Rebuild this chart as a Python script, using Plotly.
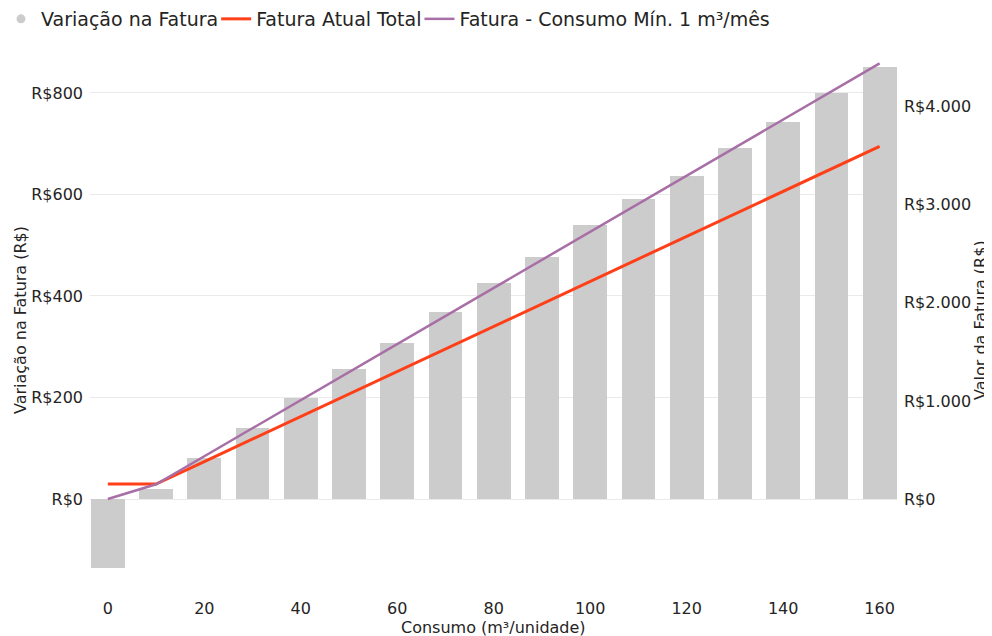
import plotly.graph_objects as go

# Data
consumo = [0, 10, 20, 30, 40, 50, 60, 70, 80, 90, 100, 110, 120, 130, 140, 150, 160]
variacao = [-135, 20, 80, 140, 199, 256, 307, 368, 426, 477, 540, 591, 636, 692, 743, 800, 851]
fatura_atual = [153, 153, 382, 611, 840, 1069, 1298, 1527, 1756, 1985, 2214, 2443, 2672, 2901, 3130, 3359, 3595]
fatura_min = [0, 150, 436, 722, 1008, 1294, 1580, 1866, 2152, 2438, 2724, 3010, 3296, 3582, 3868, 4154, 4440]

x_ticks = [0, 20, 40, 60, 80, 100, 120, 140, 160]
left_ticks = [0, 200, 400, 600, 800]
left_labels = ["R$0", "R$200", "R$400", "R$600", "R$800"]
right_ticks = [0, 1000, 2000, 3000, 4000]
right_labels = ["R$0", "R$1.000", "R$2.000", "R$3.000", "R$4.000"]

FONT = "DejaVu Sans"
TXT = "#252423"
GRAY = "#CCCCCC"
RED = "#FF3F17"
PURPLE = "#A86FA6"

ML, MR, MT, MB = 82, 103, 42, 54
PW = 992 - ML - MR
PH = 636 - MT - MB

fig = go.Figure()

fig.add_trace(go.Bar(
    x=consumo, y=variacao, name="Variação na Fatura",
    marker=dict(color=GRAY, line=dict(width=0)),
    width=7, showlegend=False, yaxis="y",
))
# legend entry with circle symbol like the original
fig.add_trace(go.Scatter(
    x=[None], y=[None], mode="markers", name="Variação na Fatura",
    marker=dict(color=GRAY, size=9, symbol="circle"), showlegend=True,
))
fig.add_trace(go.Scatter(
    x=consumo, y=fatura_atual, name="Fatura Atual Total", mode="lines",
    line=dict(color=RED, width=3), yaxis="y2",
))
fig.add_trace(go.Scatter(
    x=consumo, y=fatura_min, name="Fatura - Consumo Mín. 1 m³/mês", mode="lines",
    line=dict(color=PURPLE, width=2.5), yaxis="y2",
))

fig.update_layout(
    width=992, height=636,
    margin=dict(l=ML, r=MR, t=MT, b=MB),
    paper_bgcolor="white", plot_bgcolor="white",
    font=dict(family=FONT, color=TXT, size=16),
    bargap=0,
    showlegend=True,
    legend=dict(
        orientation="h", xref="container", x=0,
        yref="container", y=1 - 11 / 636,
        xanchor="left", yanchor="middle", indentation=-7,
        font=dict(family=FONT, size=19, color=TXT),
        itemwidth=30, tracegroupgap=0, traceorder="normal",
        bgcolor="rgba(0,0,0,0)",
    ),
    xaxis=dict(
        range=[-3.7, 163.6], tickvals=x_ticks, ticktext=[str(v) for v in x_ticks],
        showgrid=False, zeroline=False, showline=False, ticks="",
        tickfont=dict(size=16, color=TXT), ticklabelstandoff=7,
        automargin=False,
    ),
    yaxis=dict(
        range=[-179.3, 884.7], tickvals=left_ticks, ticktext=left_labels,
        showgrid=True, gridcolor="#EAEAEA", gridwidth=1,
        zeroline=True, zerolinecolor="#EAEAEA", zerolinewidth=1,
        showline=False, ticks="", tickfont=dict(size=16, color=TXT),
        ticklabelstandoff=6,
        title=dict(text="Variação na Fatura (R$)", font=dict(size=16, color=TXT), standoff=0),
        automargin=False,
    ),
    yaxis2=dict(
        range=[-927.6, 4577], tickvals=right_ticks, ticktext=right_labels,
        overlaying="y", side="right", showgrid=False, zeroline=False,
        showline=False, ticks="", tickfont=dict(size=16, color=TXT),
        ticklabelstandoff=6,
        automargin=False,
    ),
    annotations=[
        dict(
            text="Consumo (m³/unidade)", xref="paper", yref="paper",
            x=0.5, y=-37 / PH, xanchor="center", yanchor="middle",
            showarrow=False, font=dict(size=16, color=TXT, family=FONT),
        ),
        dict(
            text="Valor da Fatura (R$)", xref="paper", yref="paper",
            x=1 + (972 - (992 - MR)) / PW, y=0.5, xanchor="center", yanchor="middle",
            textangle=-90, showarrow=False, font=dict(size=16, color=TXT, family=FONT),
        ),
    ],
)

fig.write_html("out.html")
